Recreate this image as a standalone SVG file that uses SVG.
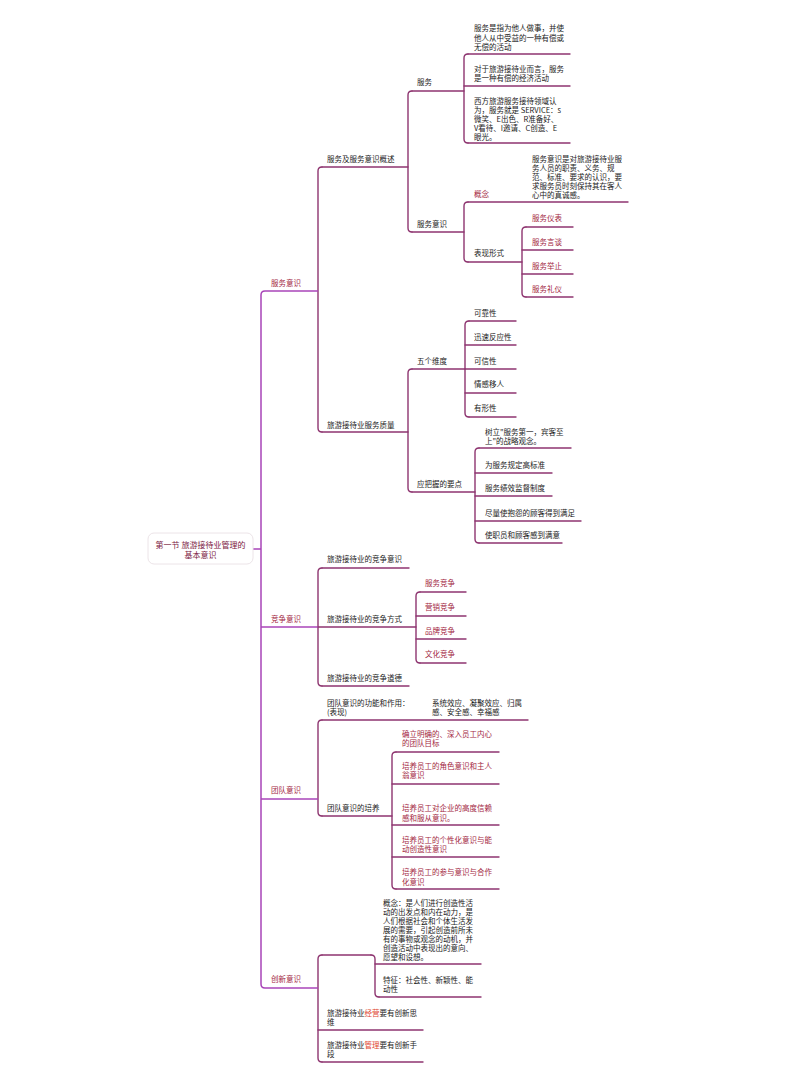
<svg xmlns="http://www.w3.org/2000/svg" width="800" height="1067" viewBox="0 0 800 1067">
<style>
.t{font-family:"Noto Sans CJK SC","Noto Sans",sans-serif;font-size:7.5px;fill:#1a1a1a}
.r{fill:#a3273f}
.h{fill:#e0452f}
.root{font-family:"Noto Sans CJK SC","Noto Sans",sans-serif;font-size:8px;fill:#7b2042;text-anchor:middle}
.ln{stroke:#8e3570;stroke-width:1.4;fill:none;stroke-linecap:round}
.sp{stroke:#a844b8;stroke-width:1.5;fill:none}
</style>
<rect width="800" height="1067" fill="#ffffff"/>
<g id="connectors">
<path class="sp" d="M253,549 L261,549"/>
<path class="sp" d="M265,291 Q261,291 261,295 L261,984 Q261,988 265,988"/>
<path class="ln" d="M322,167 Q318,167 318,171 L318,428 Q318,432 322,432"/>
<path class="ln" d="M412,91 Q408,91 408,95 L408,228 Q408,232 412,232"/>
<path class="ln" d="M468,54 Q464,54 464,58 L464,139 Q464,143 468,143"/>
<path class="ln" d="M468,202 Q464,202 464,206 L464,258 Q464,262 468,262"/>
<path class="ln" d="M526,227 Q522,227 522,231 L522,293 Q522,297 526,297"/>
<path class="ln" d="M412,369 Q408,369 408,373 L408,488 Q408,492 412,492"/>
<path class="ln" d="M469,321 Q465,321 465,325 L465,413 Q465,417 469,417"/>
<path class="ln" d="M479,448 Q475,448 475,452 L475,539 Q475,543 479,543"/>
<path class="ln" d="M322,568 Q318,568 318,572 L318,682 Q318,686 322,686"/>
<path class="ln" d="M420,592 Q416,592 416,596 L416,659 Q416,663 420,663"/>
<path class="ln" d="M322,720 Q318,720 318,724 L318,812 Q318,816 322,816"/>
<path class="ln" d="M396,752 Q392,752 392,756 L392,885 Q392,889 396,889"/>
<path class="ln" d="M322,955 Q318,955 318,959 L318,1058 Q318,1062 322,1062"/>
<path class="ln" d="M371,955 Q375,955 375,959 L375,993 Q375,997 379,997"/>
</g>
<g id="root">
<rect x="148" y="533" width="105" height="31" rx="6" fill="#ffffff" stroke="#ece4e8" stroke-width="1"/>
<text class="root" x="200.5" y="548">第一节 旅游接待业管理的</text>
<text class="root" x="200.5" y="558">基本意识</text>
</g>
<g id="n-fuwuyishi">
<line class="sp" x1="265" y1="291" x2="318" y2="291"/>
<text class="t r" x="271" y="286">服务意识</text>
</g>
<g id="n-gaishu">
<line class="ln" x1="322" y1="167" x2="408" y2="167"/>
<text class="t" x="327" y="162">服务及服务意识概述</text>
</g>
<g id="n-fuwu">
<line class="ln" x1="412" y1="91" x2="464" y2="91"/>
<text class="t" x="417" y="85">服务</text>
</g>
<g id="n-fuwu-1">
<line class="ln" x1="468" y1="54" x2="570" y2="54"/>
<text class="t" x="474"><tspan x="474" y="31">服务是指为他人做事，并使</tspan><tspan x="474" y="41">他人从中受益的一种有偿或</tspan><tspan x="474" y="50">无偿的活动</tspan></text>
</g>
<g id="n-fuwu-2">
<line class="ln" x1="464" y1="86" x2="570" y2="86"/>
<text class="t" x="474"><tspan x="474" y="72">对于旅游接待业而言，服务</tspan><tspan x="474" y="81">是一种有偿的经济活动</tspan></text>
</g>
<g id="n-fuwu-3">
<line class="ln" x1="468" y1="143" x2="570" y2="143"/>
<text class="t" x="474"><tspan x="474" y="104">西方旅游服务接待领域认</tspan><tspan x="474" y="113">为，服务就是 SERVICE：s</tspan><tspan x="474" y="122">微笑、E出色、R准备好、</tspan><tspan x="474" y="131">V看待、I邀请、C创造、E</tspan><tspan x="474" y="140">眼光。</tspan></text>
</g>
<g id="n-fwys">
<line class="ln" x1="412" y1="232" x2="464" y2="232"/>
<text class="t" x="417" y="227">服务意识</text>
</g>
<g id="n-gainian">
<line class="ln" x1="468" y1="202" x2="628" y2="202"/>
<text class="t r" x="474" y="197">概念</text>
</g>
<g id="n-gainian-desc">
<text class="t" x="532"><tspan x="532" y="162">服务意识是对旅游接待业服</tspan><tspan x="532" y="171">务人员的职责、义务、规</tspan><tspan x="532" y="180">范、标准、要求的认识，要</tspan><tspan x="532" y="189">求服务员时刻保持其在客人</tspan><tspan x="532" y="198">心中的真诚感。</tspan></text>
</g>
<g id="n-biaoxian">
<line class="ln" x1="468" y1="262" x2="522" y2="262"/>
<text class="t" x="474" y="256">表现形式</text>
</g>
<g id="n-yibiao">
<line class="ln" x1="526" y1="227" x2="573" y2="227"/>
<text class="t r" x="532" y="221">服务仪表</text>
</g>
<g id="n-yantan">
<line class="ln" x1="522" y1="250" x2="573" y2="250"/>
<text class="t r" x="532" y="245">服务言谈</text>
</g>
<g id="n-juzhi">
<line class="ln" x1="522" y1="274" x2="573" y2="274"/>
<text class="t r" x="532" y="269">服务举止</text>
</g>
<g id="n-liyi">
<line class="ln" x1="526" y1="297" x2="573" y2="297"/>
<text class="t r" x="532" y="292">服务礼仪</text>
</g>
<g id="n-zhiliang">
<line class="ln" x1="322" y1="432" x2="408" y2="432"/>
<text class="t" x="327" y="428">旅游接待业服务质量</text>
</g>
<g id="n-weidu">
<line class="ln" x1="412" y1="369" x2="465" y2="369"/>
<text class="t" x="417" y="364">五个维度</text>
</g>
<g id="n-wd1"><line class="ln" x1="469" y1="321" x2="516" y2="321"/><text class="t" x="474" y="316">可靠性</text></g>
<g id="n-wd2"><line class="ln" x1="465" y1="345" x2="516" y2="345"/><text class="t" x="474" y="340">迅速反应性</text></g>
<g id="n-wd3"><line class="ln" x1="465" y1="369" x2="516" y2="369"/><text class="t" x="474" y="364">可信性</text></g>
<g id="n-wd4"><line class="ln" x1="465" y1="393" x2="516" y2="393"/><text class="t" x="474" y="387">情感移人</text></g>
<g id="n-wd5"><line class="ln" x1="469" y1="417" x2="516" y2="417"/><text class="t" x="474" y="411">有形性</text></g>
<g id="n-yaodian">
<line class="ln" x1="412" y1="492" x2="475" y2="492"/>
<text class="t" x="417" y="487">应把握的要点</text>
</g>
<g id="n-yd1"><line class="ln" x1="479" y1="448" x2="571" y2="448"/><text class="t"><tspan x="485" y="435">树立"服务第一，宾客至</tspan><tspan x="485" y="444">上"的战略观念。</tspan></text></g>
<g id="n-yd2"><line class="ln" x1="475" y1="473" x2="552" y2="473"/><text class="t" x="485" y="468">为服务规定高标准</text></g>
<g id="n-yd3"><line class="ln" x1="475" y1="496" x2="552" y2="496"/><text class="t" x="485" y="491">服务绩效监督制度</text></g>
<g id="n-yd4"><line class="ln" x1="475" y1="521" x2="581" y2="521"/><text class="t" x="485" y="516">尽量使抱怨的顾客得到满足</text></g>
<g id="n-yd5"><line class="ln" x1="479" y1="543" x2="562" y2="543"/><text class="t" x="485" y="538">使职员和顾客感到满意</text></g>
<g id="n-jingzheng">
<line class="sp" x1="261" y1="627" x2="318" y2="627"/>
<text class="t r" x="271" y="622">竞争意识</text>
</g>
<g id="n-jz1"><line class="ln" x1="322" y1="568" x2="409" y2="568"/><text class="t" x="327" y="562">旅游接待业的竞争意识</text></g>
<g id="n-jz2"><line class="ln" x1="318" y1="627" x2="416" y2="627"/><text class="t" x="327" y="622">旅游接待业的竞争方式</text></g>
<g id="n-jz3"><line class="ln" x1="322" y1="686" x2="409" y2="686"/><text class="t" x="327" y="681">旅游接待业的竞争道德</text></g>
<g id="n-fs1"><line class="ln" x1="420" y1="592" x2="466" y2="592"/><text class="t r" x="425" y="586">服务竞争</text></g>
<g id="n-fs2"><line class="ln" x1="416" y1="616" x2="466" y2="616"/><text class="t r" x="425" y="610">营销竞争</text></g>
<g id="n-fs3"><line class="ln" x1="416" y1="639" x2="466" y2="639"/><text class="t r" x="425" y="634">品牌竞争</text></g>
<g id="n-fs4"><line class="ln" x1="420" y1="663" x2="466" y2="663"/><text class="t r" x="425" y="657">文化竞争</text></g>
<g id="n-tuandui">
<line class="sp" x1="261" y1="799" x2="318" y2="799"/>
<text class="t r" x="271" y="793">团队意识</text>
</g>
<g id="n-gongneng">
<line class="ln" x1="322" y1="720" x2="528" y2="720"/>
<text class="t"><tspan x="327" y="706">团队意识的功能和作用：</tspan><tspan x="327" y="715">(表现)</tspan></text>
</g>
<g id="n-gongneng-desc">
<text class="t"><tspan x="432" y="706">系统效应、凝聚效应、归属</tspan><tspan x="432" y="715">感、安全感、幸福感</tspan></text>
</g>
<g id="n-peiyang">
<line class="ln" x1="322" y1="816" x2="392" y2="816"/>
<text class="t" x="327" y="811">团队意识的培养</text>
</g>
<g id="n-py1"><line class="ln" x1="396" y1="752" x2="499" y2="752"/><text class="t r"><tspan x="402" y="737">确立明确的、深入员工内心</tspan><tspan x="402" y="746">的团队目标</tspan></text></g>
<g id="n-py2"><line class="ln" x1="392" y1="784" x2="499" y2="784"/><text class="t r"><tspan x="402" y="769">培养员工的角色意识和主人</tspan><tspan x="402" y="778">翁意识</tspan></text></g>
<g id="n-py3"><line class="ln" x1="392" y1="825" x2="499" y2="825"/><text class="t r"><tspan x="402" y="811">培养员工对企业的高度信赖</tspan><tspan x="402" y="821">感和服从意识。</tspan></text></g>
<g id="n-py4"><line class="ln" x1="392" y1="857" x2="499" y2="857"/><text class="t r"><tspan x="402" y="843">培养员工的个性化意识与能</tspan><tspan x="402" y="852">动创造性意识</tspan></text></g>
<g id="n-py5"><line class="ln" x1="396" y1="889" x2="499" y2="889"/><text class="t r"><tspan x="402" y="875">培养员工的参与意识与合作</tspan><tspan x="402" y="885">化意识</tspan></text></g>
<g id="n-chuangxin">
<line class="sp" x1="265" y1="988" x2="318" y2="988"/>
<text class="t r" x="271" y="982">创新意识</text>
</g>
<g id="n-cx0"><line class="ln" x1="322" y1="955" x2="371" y2="955"/></g>
<g id="n-cx-gn"><line class="ln" x1="375" y1="964" x2="481" y2="964"/><text class="t"><tspan x="383" y="906">概念：是人们进行创造性活</tspan><tspan x="383" y="915">动的出发点和内在动力，是</tspan><tspan x="383" y="924">人们根据社会和个体生活发</tspan><tspan x="383" y="933">展的需要，引起创造前所未</tspan><tspan x="383" y="942">有的事物或观念的动机，并</tspan><tspan x="383" y="951">创造活动中表现出的意向、</tspan><tspan x="383" y="960">愿望和设想。</tspan></text></g>
<g id="n-cx-tz"><line class="ln" x1="379" y1="997" x2="481" y2="997"/><text class="t"><tspan x="383" y="983">特征：社会性、新颖性、能</tspan><tspan x="383" y="992">动性</tspan></text></g>
<g id="n-cx1"><line class="ln" x1="318" y1="1030" x2="423" y2="1030"/><text class="t"><tspan x="327" y="1016">旅游接待业<tspan class="h">经营</tspan>要有创新思</tspan><tspan x="327" y="1025">维</tspan></text></g>
<g id="n-cx2"><line class="ln" x1="322" y1="1062" x2="423" y2="1062"/><text class="t"><tspan x="327" y="1048">旅游接待业<tspan class="h">管理</tspan>要有创新手</tspan><tspan x="327" y="1057">段</tspan></text></g>
</svg>
